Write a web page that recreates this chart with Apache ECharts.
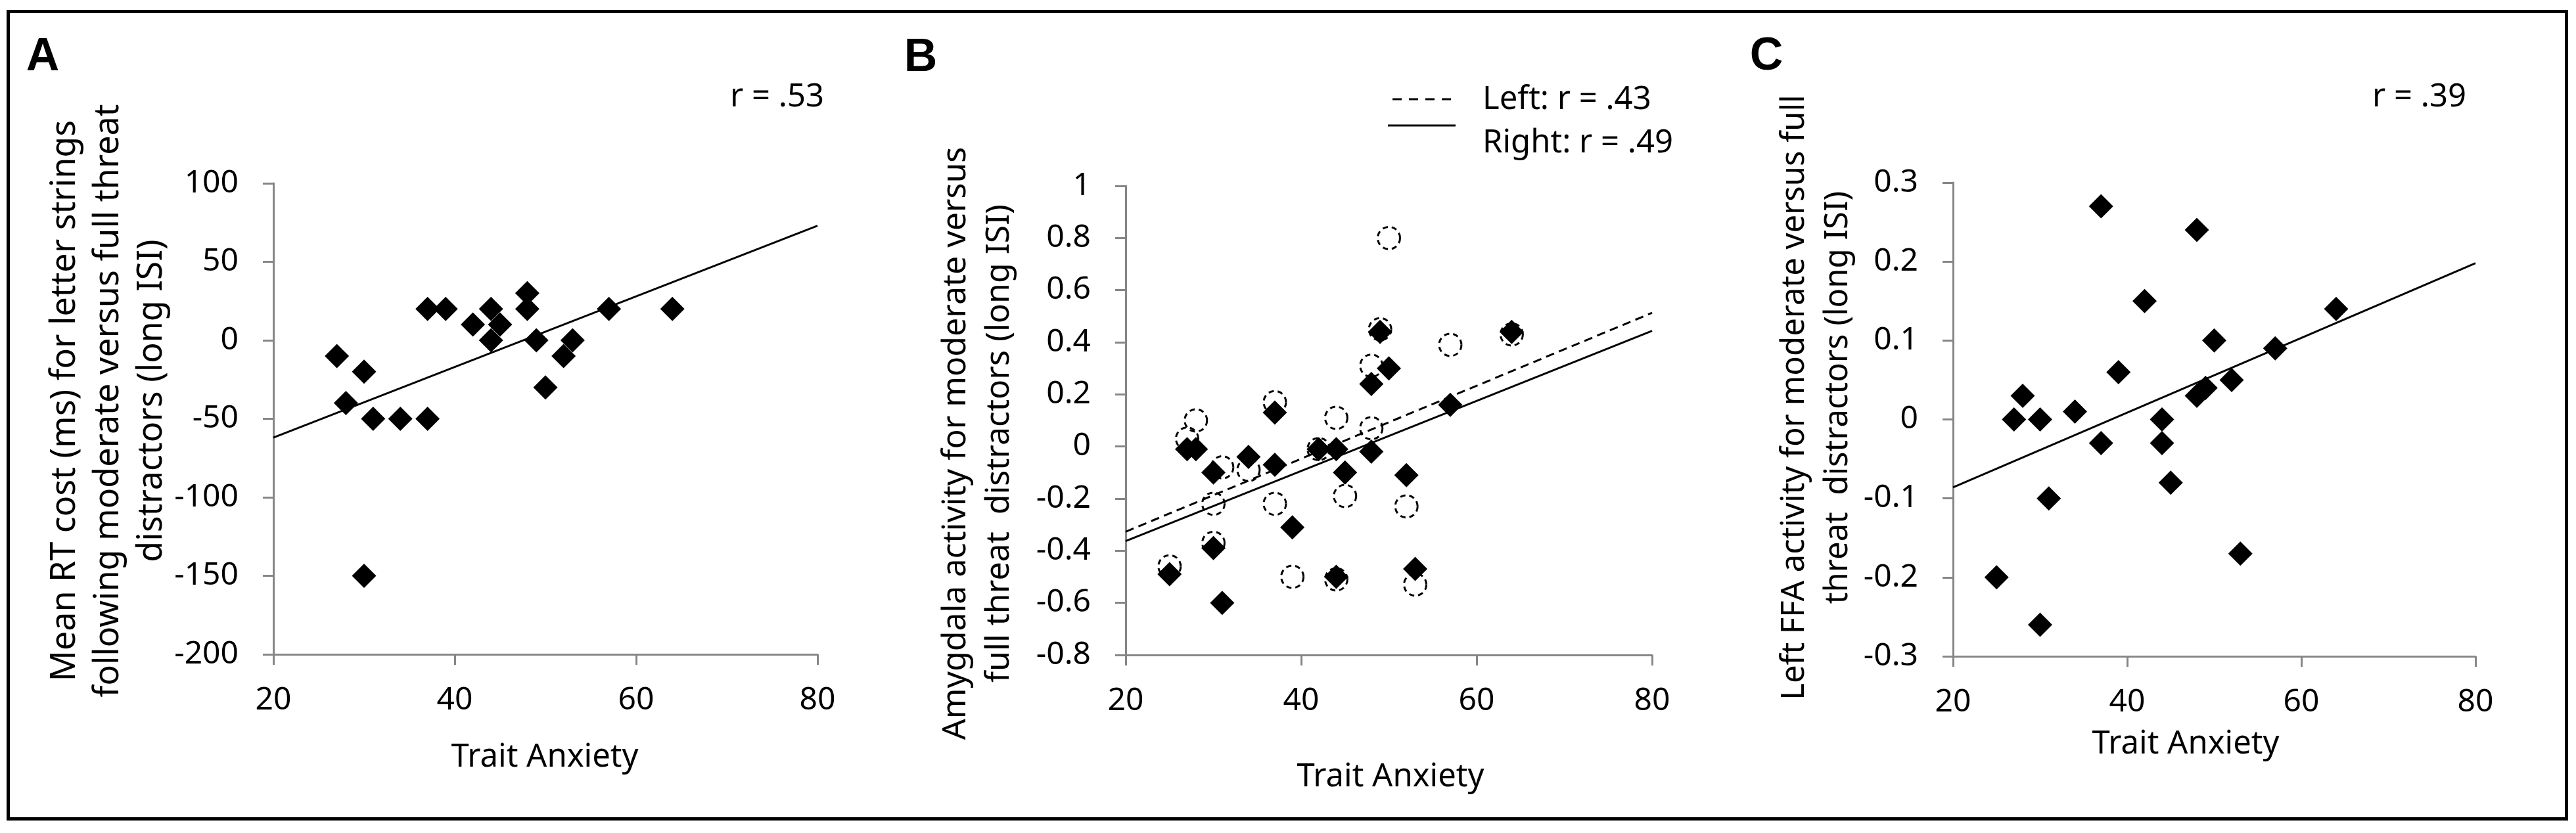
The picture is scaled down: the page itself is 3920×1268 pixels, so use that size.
<!DOCTYPE html>
<html>
<head>
<meta charset="utf-8">
<title>Trait anxiety scatter plots</title>
<script src="https://cdn.jsdelivr.net/npm/echarts@6.0.0/dist/echarts.min.js"></script>
<style>
  html, body { margin: 0; padding: 0; background: #fff; }
  #chart { width: 3920px; height: 1268px; }
</style>
</head>
<body>
<div id="chart"></div>
<script>
// trait anxiety scores (x) for each panel
const anxietyA = [27, 28, 30, 30, 31, 34, 37, 37, 39, 42, 44, 44, 45, 48, 48, 49, 50, 52, 53, 57, 64];
const anxietyB = [25, 27, 28, 30, 30, 31, 34, 37, 37, 39, 42, 44, 44, 45, 48, 48, 49, 50, 52, 53, 57, 64];
const anxietyC = [25, 27, 28, 30, 30, 31, 34, 37, 37, 39, 42, 44, 44, 45, 48, 48, 49, 50, 52, 53, 57, 64];

// A: RT cost (ms)
const rtCost = [-10, -40, -20, -150, -50, -50, -50, 20, 20, 10, 20, 0, 10, 30, 20, 0, -30, -10, 0, 20, 20];
// B: amygdala activity, left (open circles) and right (diamonds)
const amygLeft = [-0.46, 0.03, 0.10, -0.22, -0.37, -0.08, -0.09, 0.17, -0.22, -0.50, -0.01, 0.11, -0.51, -0.19, 0.31, 0.07, 0.45, 0.80, -0.23, -0.53, 0.39, 0.43];
const amygRight = [-0.49, -0.01, -0.01, -0.10, -0.39, -0.60, -0.04, 0.13, -0.07, -0.31, -0.01, -0.01, -0.50, -0.10, 0.24, -0.02, 0.44, 0.30, -0.11, -0.47, 0.16, 0.44];
// C: left FFA activity
const ffaLeft = [-0.20, 0, 0.03, 0, -0.26, -0.10, 0.01, 0.27, -0.03, 0.06, 0.15, 0, -0.03, -0.08, 0.24, 0.03, 0.04, 0.10, 0.05, -0.17, 0.09, 0.14];

// trend line ends, read at x = 20 and x = 80
const fitX = [20, 80];
const fitA = [-62, 73];
const fitBLeft = [-0.327, 0.513];
const fitBRight = [-0.363, 0.444];
const fitC = [-0.086, 0.198];

// axis ranges
const xRange = { min: 20, max: 80, interval: 20 };
const yRangeA = { min: -200, max: 100, interval: 50 };
const yRangeB = { min: -0.8, max: 1, interval: 0.2 };
const yRangeC = { min: -0.3, max: 0.3, interval: 0.1 };

const pairs = (xs, ys) => xs.map((x, i) => [x, ys[i]]);

const FONT = 'Noto Sans';
const AXIS_GREY = '#868686';

const xAxisBase = (gi) => ({
  type: 'value', gridIndex: gi,
  min: xRange.min, max: xRange.max, interval: xRange.interval,
  axisLine: { onZero: false, lineStyle: { color: AXIS_GREY, width: 3 } },
  axisTick: { length: 16, lineStyle: { color: AXIS_GREY, width: 3 } },
  axisLabel: { margin: 46, color: '#000', fontFamily: FONT, fontSize: 48 },
  splitLine: { show: false }
});
const yAxisBase = (gi, r) => ({
  type: 'value', gridIndex: gi,
  min: r.min, max: r.max, interval: r.interval,
  axisLine: { show: true, onZero: false, lineStyle: { color: AXIS_GREY, width: 3 } },
  axisTick: { show: true, length: 16, lineStyle: { color: AXIS_GREY, width: 3 } },
  axisLabel: {
    margin: 53, color: '#000', fontFamily: FONT, fontSize: 48,
    formatter: (v) => String(+v.toFixed(2))
  },
  splitLine: { show: false }
});

const diamonds = (xi, data) => ({
  type: 'scatter', xAxisIndex: xi, yAxisIndex: xi,
  symbol: 'diamond', symbolSize: 37, data: data,
  itemStyle: { color: '#000', opacity: 1 }, z: 4
});
const fitLine = (xi, ys, dashed) => ({
  type: 'line', xAxisIndex: xi, yAxisIndex: xi,
  data: pairs(fitX, ys), symbol: 'none',
  lineStyle: { color: '#000', width: 3, type: dashed ? [13, 8] : 'solid' }, z: 5
});

const txt = (x, y, text, extra) => ({
  type: 'text', x: x, y: y, z: 10,
  style: Object.assign({ text: text, fill: '#000', font: '49px "' + FONT + '"', align: 'left', verticalAlign: 'middle' }, extra || {})
});
const yTitle = (x, y, size, text) => ({
  type: 'text', x: x, y: y, rotation: Math.PI / 2, z: 10,
  style: { text: text, fill: '#000', font: size + 'px "' + FONT + '"', align: 'center', verticalAlign: 'middle', lineHeight: 66 }
});
const letter = (x, y, text) => txt(x, y, text, { font: 'bold 70px "Liberation Sans"', align: 'center' });

const chart = echarts.init(document.getElementById('chart'));

const option = {
  animation: false,
  backgroundColor: '#fff',
  grid: [
    { left: 416, top: 279, width: 828, height: 717, containLabel: false, outerBoundsMode: 'none' },
    { left: 1713, top: 283, width: 801, height: 714, containLabel: false, outerBoundsMode: 'none' },
    { left: 2972, top: 278, width: 795, height: 721, containLabel: false, outerBoundsMode: 'none' }
  ],
  xAxis: [xAxisBase(0), xAxisBase(1), xAxisBase(2)],
  yAxis: [yAxisBase(0, yRangeA), yAxisBase(1, yRangeB), yAxisBase(2, yRangeC)],
  series: [
    diamonds(0, pairs(anxietyA, rtCost)),
    fitLine(0, fitA, false),
    {
      type: 'scatter', xAxisIndex: 1, yAxisIndex: 1,
      symbol: 'circle', symbolSize: 34, data: pairs(anxietyB, amygLeft),
      itemStyle: { color: 'rgba(0,0,0,0)', borderColor: '#000', borderWidth: 3, borderType: [8, 6], opacity: 1 },
      z: 3
    },
    diamonds(1, pairs(anxietyB, amygRight)),
    fitLine(1, fitBLeft, true),
    fitLine(1, fitBRight, false),
    diamonds(2, pairs(anxietyC, ffaLeft)),
    fitLine(2, fitC, false)
  ],
  graphic: [
    { type: 'rect', z: 1, shape: { x: 12.5, y: 17.5, width: 3893, height: 1229 },
      style: { fill: 'none', stroke: '#000', lineWidth: 5 } },
    letter(65, 88, 'A'),
    letter(1401, 89, 'B'),
    letter(2688, 87, 'C'),
    txt(1111, 148, 'r = .53'),
    txt(3610, 148, 'r = .39'),
    // legend of panel B
    { type: 'line', z: 10, shape: { x1: 2119, y1: 151, x2: 2217, y2: 151 },
      style: { stroke: '#000', lineWidth: 3, lineDash: [14, 11] } },
    { type: 'line', z: 10, shape: { x1: 2112, y1: 191, x2: 2215, y2: 191 },
      style: { stroke: '#000', lineWidth: 3 } },
    txt(2256, 152, 'Left: r = .43'),
    txt(2256, 218, 'Right: r = .49'),
    // axis titles
    txt(829, 1153, 'Trait Anxiety', { align: 'center' }),
    txt(2116, 1183, 'Trait Anxiety', { align: 'center' }),
    txt(3326, 1133, 'Trait Anxiety', { align: 'center' }),
    yTitle(165, 610, 52, 'Mean RT cost (ms) for letter strings\nfollowing moderate versus full threat\ndistractors (long ISI)'),
    yTitle(1488, 675, 50, 'Amygdala activity for moderate versus\nfull threat  distractors (long ISI)'),
    yTitle(2764, 605, 49, 'Left FFA activity for moderate versus full\nthreat  distractors (long ISI)')
  ]
};

chart.setOption(option);
</script>
</body>
</html>
